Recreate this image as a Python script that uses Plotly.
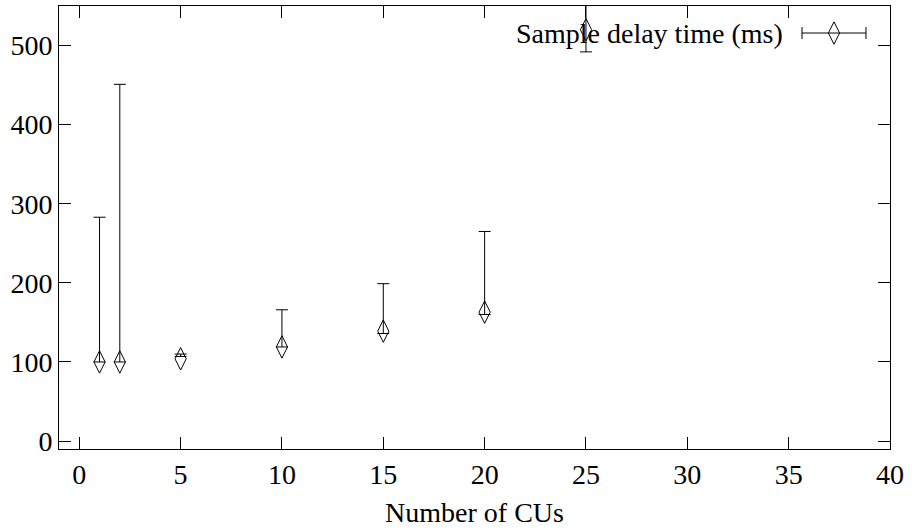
import plotly.graph_objects as go

# Data
cus = [1, 2, 5, 10, 15, 20, 25]
delay = [100, 100, 104, 119, 139, 163, 520]
delay_low = [100, 100, 107, 119, 136, 160, 492]
delay_high = [283, 451, 110, 166, 199, 265, 600]

x_ticks = [0, 5, 10, 15, 20, 25, 30, 35, 40]
y_ticks = [0, 100, 200, 300, 400, 500]

series_name = "Sample delay time (ms)"
x_title = "Number of CUs"

FONT = "Liberation Serif"
FS = 28

err_plus = [h - v for h, v in zip(delay_high, delay)]
err_minus = [v - l for v, l in zip(delay, delay_low)]

fig = go.Figure()
fig.add_trace(go.Scatter(
    x=cus, y=delay, mode="markers", name=series_name, showlegend=False,
    marker=dict(symbol="diamond-tall-open", size=16, color="black",
                line=dict(color="black", width=1)),
    error_y=dict(type="data", symmetric=False, array=err_plus, arrayminus=err_minus,
                 color="black", thickness=1, width=6),
))

# Legend key (gnuplot style: text then sample) drawn on a hidden overlay axis
fig.add_trace(go.Scatter(
    x=[0.9326], y=[0.939], mode="markers", xaxis="x2", yaxis="y2", showlegend=False,
    hoverinfo="skip",
    marker=dict(symbol="diamond-tall-open", size=16, color="black",
                line=dict(color="black", width=1)),
    error_x=dict(type="constant", value=0.0385, color="black", thickness=1, width=6),
))
fig.add_annotation(
    x=0.8736, y=0.939, xref="paper", yref="paper", xanchor="right", yanchor="middle",
    text=series_name, showarrow=False, font=dict(family=FONT, size=FS, color="black"),
)

axis_common = dict(
    showline=True, linecolor="black", linewidth=1, mirror="ticks",
    ticks="inside", ticklen=12, tickwidth=1, tickcolor="black",
    showgrid=False, zeroline=False, automargin=False,
    tickfont=dict(family=FONT, size=FS, color="black"),
)

fig.update_layout(
    width=912, height=531,
    margin=dict(l=59, r=22, t=6, b=82),
    paper_bgcolor="white", plot_bgcolor="white",
    font=dict(family=FONT, size=FS, color="black"),
    xaxis=dict(range=[-1, 40], tickvals=x_ticks, ticktext=[str(v) for v in x_ticks],
               title=dict(text=x_title, font=dict(family=FONT, size=FS, color="black"),
                          standoff=13),
               **axis_common),
    yaxis=dict(range=[-10, 550], tickvals=y_ticks, ticktext=[str(v) for v in y_ticks],
               **axis_common),
    xaxis2=dict(overlaying="x", range=[0, 1], visible=False, anchor="y2"),
    yaxis2=dict(overlaying="y", range=[0, 1], visible=False, anchor="x2"),
)

fig.write_html("out.html",
               config={"displayModeBar": False},
               post_script="document.body.style.margin='0';document.body.style.overflow='hidden';")
